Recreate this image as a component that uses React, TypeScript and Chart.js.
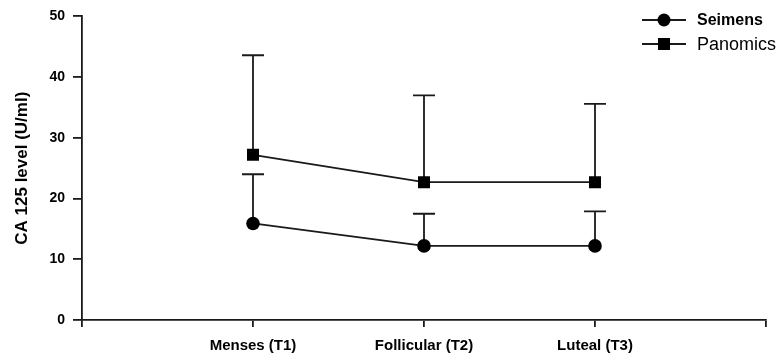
import React, { useEffect, useRef } from 'react';
import { Chart, registerables } from 'chart.js';

Chart.register(...registerables);

const categories = ['Menses (T1)', 'Follicular (T2)', 'Luteal (T3)'];
const seriesNames = ['Seimens', 'Panomics'];
const seimensMean = [15.9, 12.2, 12.2];
const seimensUpper = [24.0, 17.5, 17.9];
const panomicsMean = [27.2, 22.7, 22.7];
const panomicsUpper = [43.6, 37.0, 35.6];
const yMin = 0;
const yMax = 50;
const yStep = 10;

const FONT = '"Liberation Sans", Arial, Helvetica, sans-serif';
const INK = '#1a1a1a';

const errorBarPlugin = {
  id: 'errorBars',
  beforeDatasetsDraw(chart: any) {
    const ctx = chart.ctx;
    const yScale = chart.scales.y;
    chart.data.datasets.forEach((ds: any, i: number) => {
      const meta = chart.getDatasetMeta(i);
      const upper: number[] = ds.errorUpper || [];
      meta.data.forEach((pt: any, j: number) => {
        const x = pt.x;
        const y0 = pt.y;
        const y1 = yScale.getPixelForValue(upper[j]);
        ctx.save();
        ctx.strokeStyle = INK;
        ctx.lineWidth = 1.8;
        ctx.beginPath();
        ctx.moveTo(x, y0);
        ctx.lineTo(x, y1);
        ctx.moveTo(x - 11, y1);
        ctx.lineTo(x + 11, y1);
        ctx.stroke();
        ctx.restore();
      });
    });
  },
};

const legendPlugin = {
  id: 'customLegend',
  afterDraw(chart: any) {
    const ctx = chart.ctx;
    const rows = [
      { name: seriesNames[0], y: 20, shape: 'circle', font: `bold 16px ${FONT}` },
      { name: seriesNames[1], y: 44, shape: 'rect', font: `18px ${FONT}` },
    ];
    rows.forEach((r) => {
      ctx.save();
      ctx.strokeStyle = INK;
      ctx.fillStyle = '#000';
      ctx.lineWidth = 1.8;
      ctx.beginPath();
      ctx.moveTo(642, r.y);
      ctx.lineTo(686, r.y);
      ctx.stroke();
      if (r.shape === 'circle') {
        ctx.beginPath();
        ctx.arc(664, r.y, 6.5, 0, Math.PI * 2);
        ctx.fill();
      } else {
        ctx.fillRect(658, r.y - 6, 12, 12);
      }
      ctx.font = r.font;
      ctx.textBaseline = 'middle';
      ctx.textAlign = 'left';
      ctx.fillText(r.name, 697, r.y + 1);
      ctx.restore();
    });
  },
};

export default function App() {
  const ref = useRef<HTMLCanvasElement | null>(null);

  useEffect(() => {
    if (!ref.current) return;
    const toPts = (vals: number[]) => vals.map((v, i) => ({ x: i + 1, y: v }));
    const chart = new Chart(ref.current, {
      type: 'line',
      data: {
        datasets: [
          {
            label: seriesNames[0],
            data: toPts(seimensMean),
            errorUpper: seimensUpper,
            borderColor: INK,
            borderWidth: 1.8,
            backgroundColor: '#000',
            pointBackgroundColor: '#000',
            pointBorderColor: '#000',
            pointStyle: 'circle',
            pointRadius: 6.8,
            pointBorderWidth: 0,
            tension: 0,
          } as any,
          {
            label: seriesNames[1],
            data: toPts(panomicsMean),
            errorUpper: panomicsUpper,
            borderColor: INK,
            borderWidth: 1.8,
            backgroundColor: '#000',
            pointBackgroundColor: '#000',
            pointBorderColor: '#000',
            pointStyle: 'rect',
            pointRadius: 8.5,
            pointBorderWidth: 0,
            tension: 0,
          } as any,
        ],
      },
      options: {
        responsive: false,
        animation: false,
        layout: { padding: { left: 0, right: 14, top: 15, bottom: 0 } },
        plugins: {
          legend: { display: false },
          tooltip: { enabled: false },
        },
        scales: {
          x: {
            type: 'linear',
            min: 0,
            max: categories.length + 1,
            afterFit: (s: any) => {
              s.height = 35;
            },
            ticks: {
              stepSize: 1,
              autoSkip: false,
              maxRotation: 0,
              padding: 10,
              color: '#000',
              font: { family: FONT, size: 15, weight: 'bold' },
              callback: (v: any) => categories[Number(v) - 1] ?? '',
            },
            grid: {
              display: true,
              drawOnChartArea: false,
              drawTicks: true,
              tickLength: 7,
              color: INK,
              lineWidth: 1.8,
            },
            border: { display: true, color: INK, width: 1.8 },
          },
          y: {
            min: yMin,
            max: yMax,
            afterFit: (s: any) => {
              s.width = 82;
            },
            ticks: {
              stepSize: yStep,
              padding: 8,
              color: '#000',
              font: { family: FONT, size: 14, weight: 'bold' },
            },
            grid: {
              display: true,
              drawOnChartArea: false,
              drawTicks: true,
              tickLength: 9,
              color: INK,
              lineWidth: 1.8,
            },
            border: { display: true, color: INK, width: 1.8 },
            title: {
              display: true,
              text: 'CA 125 level (U/ml)',
              color: '#000',
              font: { family: FONT, size: 17, weight: 'bold' },
              padding: { top: 12, bottom: 0 },
            },
          },
        },
      } as any,
      plugins: [errorBarPlugin, legendPlugin],
    });
    return () => chart.destroy();
  }, []);

  return (
    <div style={{ position: 'fixed', left: 0, top: 0, width: 780, height: 355, background: '#fff' }}>
      <canvas ref={ref} width={780} height={355} style={{ display: 'block' }} />
    </div>
  );
}
